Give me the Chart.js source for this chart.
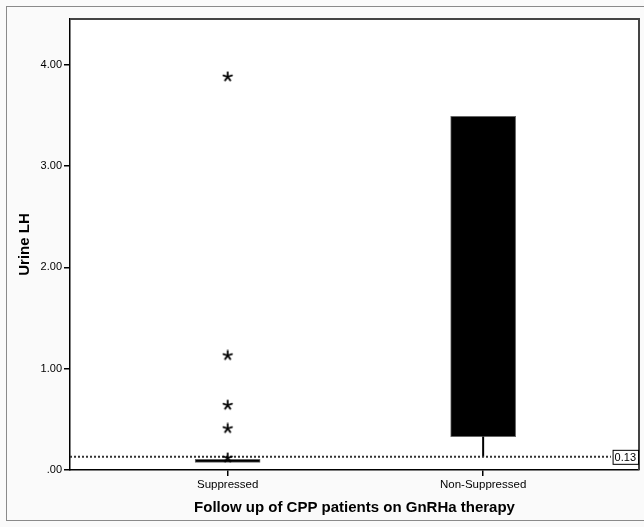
<!DOCTYPE html>
<html>
<head>
<meta charset="utf-8">
<script src="https://cdn.jsdelivr.net/npm/chart.js@4.4.1/dist/chart.umd.min.js"></script>
<style>
  html, body { margin: 0; padding: 0; background: #fff; }
  #wrap { width: 644px; height: 527px; position: relative; }
</style>
</head>
<body>
<div id="wrap"><canvas id="c" width="644" height="527"></canvas></div>
<script>
const categories = ['Suppressed', 'Non-Suppressed'];
const catPos = [1, 2];
const boxLow = [0.075, 0.33];
const boxHigh = [0.105, 3.49];
const whiskerLow = [null, 0.13];
const outlierValues = [3.88, 1.13, 0.64, 0.41, 0.12]; // all in Suppressed group
const yTicks = [0, 1, 2, 3, 4];
const refValue = 0.13;
const refLabel = '0.13';

const X_MIN = 0.383, X_MAX = 2.61;
const FONT = '"Liberation Sans", Arial, sans-serif';

// spss style asterisk
function makeStar() {
  const c = document.createElement('canvas');
  c.width = 12; c.height = 12;
  const g = c.getContext('2d');
  g.strokeStyle = '#000';
  g.lineWidth = 1.8;
  g.lineCap = 'round';
  for (let i = 0; i < 5; i++) {
    const a = (-90 + i * 72) * Math.PI / 180;
    g.beginPath();
    g.moveTo(6, 6);
    g.lineTo(6 + Math.cos(a) * 4.5, 6 + Math.sin(a) * 4.5);
    g.stroke();
  }
  return c;
}

const frames = {
  id: 'frames',
  beforeDraw(chart) {
    const { ctx, chartArea: a } = chart;
    ctx.save();
    ctx.fillStyle = '#fafafa';
    ctx.fillRect(0, 0, chart.width, chart.height);
    ctx.strokeStyle = '#8a8a8a';
    ctx.lineWidth = 1;
    ctx.strokeRect(6.5, 6.5, 650, 514);
    ctx.fillStyle = '#fff';
    ctx.fillRect(a.left, a.top, a.right - a.left, a.bottom - a.top);
    ctx.restore();
  },
  afterDraw(chart) {
    const { ctx, chartArea: a, scales: { y } } = chart;
    ctx.save();
    ctx.strokeStyle = '#444';
    ctx.lineWidth = 2;
    ctx.beginPath();
    ctx.moveTo(a.left, a.top);
    ctx.lineTo(a.right, a.top);
    ctx.lineTo(a.right, a.bottom);
    ctx.stroke();
    // reference line label
    const py = y.getPixelForValue(refValue);
    ctx.font = '11px ' + FONT;
    const w = ctx.measureText(refLabel).width + 4;
    const x0 = a.right - w - 1;
    ctx.fillStyle = '#fff';
    ctx.fillRect(x0, py - 7, w, 15);
    ctx.strokeStyle = '#000';
    ctx.lineWidth = 1;
    ctx.strokeRect(x0 + 0.5, py - 6.5, w, 14);
    ctx.fillStyle = '#000';
    ctx.textBaseline = 'middle';
    ctx.fillText(refLabel, x0 + 2, py + 1);
    ctx.restore();
  }
};

new Chart(document.getElementById('c'), {
  type: 'bar',
  data: {
    datasets: [
      {
        type: 'bar',
        data: catPos.map((x, i) => ({ x, y: [boxLow[i], boxHigh[i]] })),
        backgroundColor: '#000',
        borderColor: '#666',
        borderWidth: 1,
        borderSkipped: false,
        barThickness: 65,
        order: 4
      },
      {
        type: 'line',
        data: catPos.flatMap((x, i) => whiskerLow[i] == null ? [] :
          [{ x, y: whiskerLow[i] }, { x, y: boxLow[i] }]),
        borderColor: '#000',
        borderWidth: 2,
        pointRadius: 0,
        order: 3
      },
      {
        type: 'line',
        data: [{ x: X_MIN, y: refValue }, { x: 2.5, y: refValue }],
        borderColor: '#333',
        borderWidth: 2,
        borderDash: [2, 2],
        pointRadius: 0,
        order: 2
      },
      {
        type: 'scatter',
        data: outlierValues.map(v => ({ x: catPos[0], y: v })),
        pointStyle: makeStar(),
        order: 1
      }
    ]
  },
  options: {
    responsive: false,
    animation: false,
    events: [],
    layout: { padding: { left: 6, top: 19, right: 4, bottom: 0 } },
    plugins: { legend: { display: false }, tooltip: { enabled: false } },
    scales: {
      x: {
        type: 'linear',
        min: X_MIN,
        max: X_MAX,
        offset: false,
        afterBuildTicks(s) { s.ticks = catPos.map(v => ({ value: v })); },
        afterFit(s) { s.height = 57; },
        ticks: {
          color: '#000',
          font: { family: FONT, size: 11.5 },
          padding: 2,
          maxRotation: 0,
          callback: v => categories[catPos.indexOf(v)]
        },
        grid: { offset: false, drawOnChartArea: false, drawTicks: true, tickLength: 6, color: '#000', lineWidth: 1.5 },
        border: { display: true, color: '#000', width: 1.5 },
        title: {
          display: true,
          text: 'Follow up of CPP patients on GnRHa therapy',
          color: '#000',
          font: { family: FONT, size: 15, weight: 'bold' },
          padding: { top: 4, bottom: 10 }
        }
      },
      y: {
        type: 'linear',
        min: 0,
        max: 4.45,
        afterBuildTicks(s) { s.ticks = yTicks.map(v => ({ value: v })); },
        afterFit(s) { s.width = 64; },
        ticks: {
          color: '#000',
          font: { family: FONT, size: 11 },
          padding: 2,
          callback: v => v === 0 ? '.00' : v.toFixed(2)
        },
        grid: { drawOnChartArea: false, drawTicks: true, tickLength: 6, color: '#000', lineWidth: 1.5 },
        border: { display: true, color: '#000', width: 1.5 },
        title: {
          display: true,
          text: 'Urine LH',
          color: '#000',
          font: { family: FONT, size: 15, weight: 'bold' },
          padding: { top: 10, bottom: 0 }
        }
      }
    }
  },
  plugins: [frames]
});
</script>
</body>
</html>
